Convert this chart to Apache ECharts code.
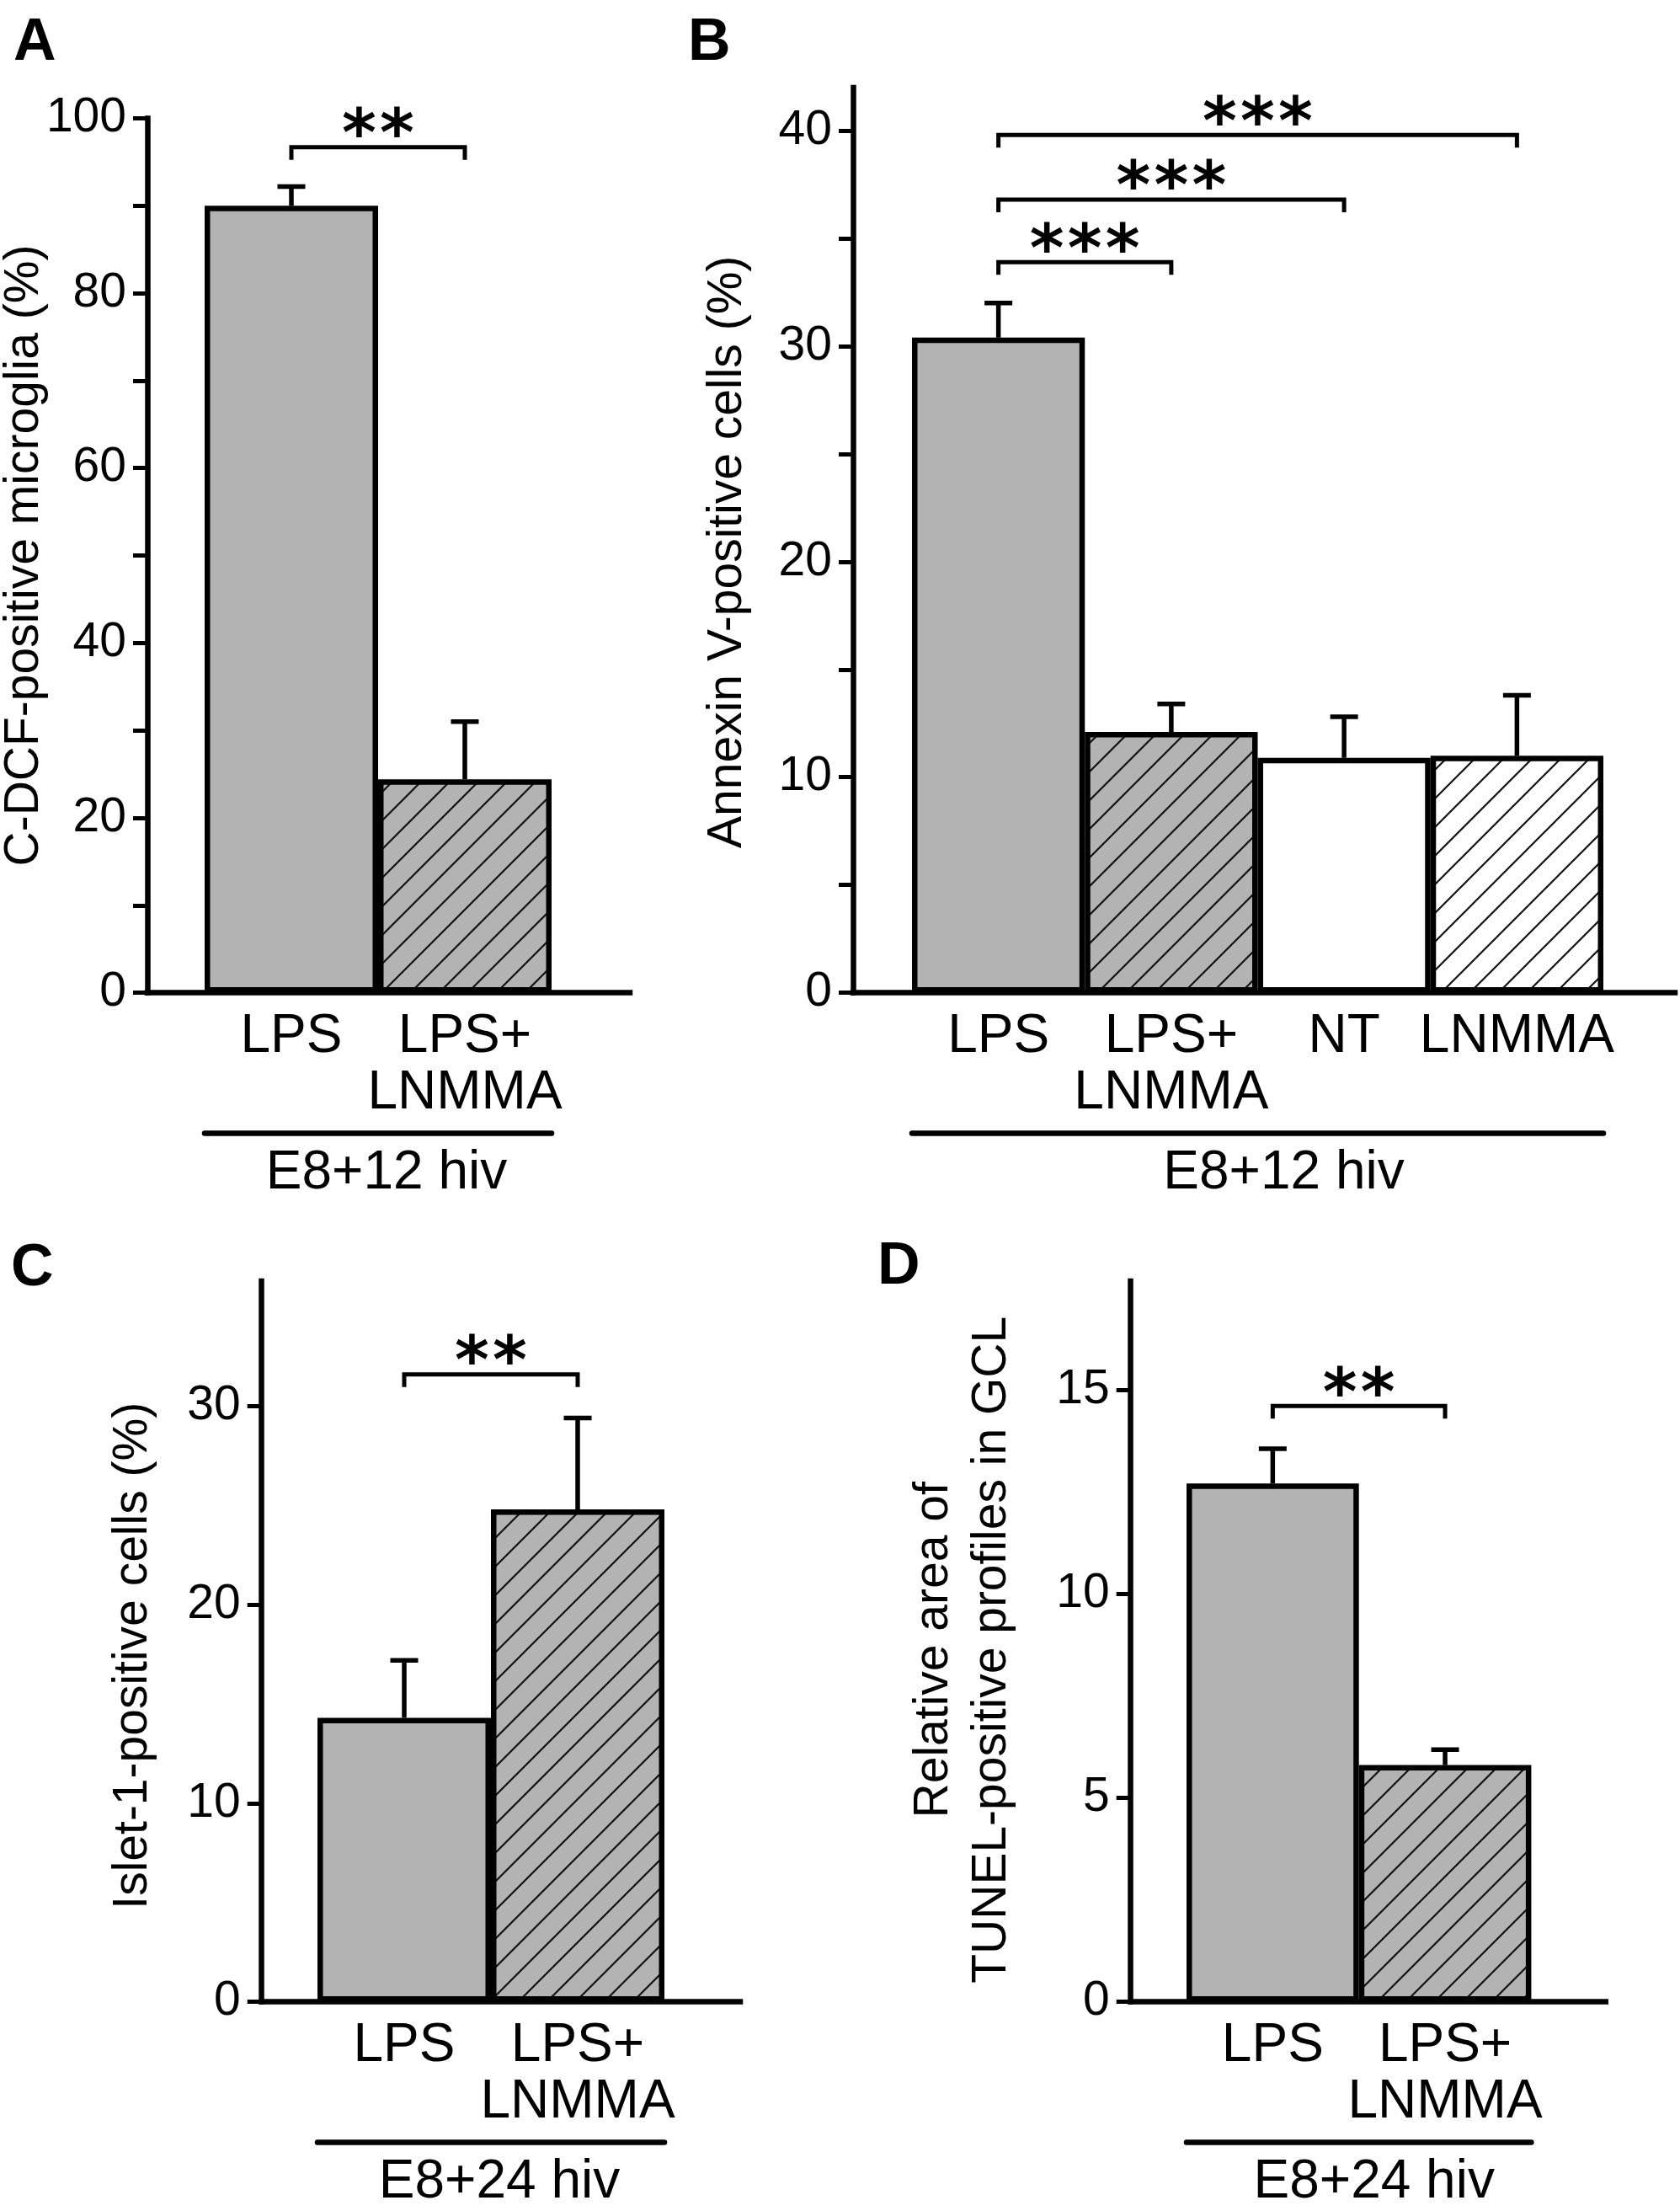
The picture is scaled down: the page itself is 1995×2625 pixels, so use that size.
<!DOCTYPE html>
<html lang="en">
<head>
<meta charset="UTF-8">
<title>LPS / LNMMA bar charts</title>
<script src="https://cdn.jsdelivr.net/npm/echarts@6/dist/echarts.min.js"></script>
<style>
    html, body { margin: 0; padding: 0; background: #fff; }
    #chart { width: 1995px; height: 2625px; }
</style>
</head>
<body>
<div id="chart"></div>
<script>
// ---- data ----
// A: C-DCF-positive microglia, E8+12 hiv
var catsA = ['LPS', 'LPS+\nLNMMA'];
var meanA = [90.0, 24.4];
var semA = [2.2, 6.6];
var ticksA = [0, 10, 20, 30, 40, 50, 60, 70, 80, 90, 100];
var labelsA = [0, 20, 40, 60, 80, 100];
var sigA = [[0, 96.7, 1, 2]];          // from, height, to, stars

// B: Annexin V-positive cells, E8+12 hiv
var catsB = ['LPS', 'LPS+\nLNMMA', 'NT', 'LNMMA'];
var meanB = [30.4, 12.1, 10.9, 11.0];
var semB = [1.6, 1.3, 1.9, 2.8];
var ticksB = [0, 5, 10, 15, 20, 25, 30, 35, 40];
var labelsB = [0, 10, 20, 30, 40];
var sigB = [[0, 33.9, 1, 3], [0, 36.8, 2, 3], [0, 39.8, 3, 3]];

// C: Islet-1-positive cells, E8+24 hiv
var catsC = ['LPS', 'LPS+\nLNMMA'];
var meanC = [14.3, 24.8];
var semC = [2.9, 4.6];
var ticksC = [0, 10, 20, 30];
var labelsC = [0, 10, 20, 30];
var sigC = [[0, 31.6, 1, 2]];

// D: TUNEL-positive profiles in GCL, E8+24 hiv
var catsD = ['LPS', 'LPS+\nLNMMA'];
var meanD = [12.7, 5.8];
var semD = [0.85, 0.38];
var ticksD = [0, 5, 10, 15];
var labelsD = [0, 5, 10, 15];
var sigD = [[0, 14.6, 1, 2]];

// ---- styles ----
var FONT = '"Liberation Sans", Arial, sans-serif';
var GRAY = '#b3b3b3';
var LW = 6.5;

function hatch(bg) {
    var s = 34;
    var c = document.createElement('canvas');
    c.width = s; c.height = s;
    var g = c.getContext('2d');
    g.fillStyle = bg;
    g.fillRect(0, 0, s, s);
    g.strokeStyle = '#111';
    g.lineWidth = 2.2;
    g.beginPath();
    g.moveTo(-3, s + 3); g.lineTo(s + 3, -3);
    g.moveTo(-3, 3); g.lineTo(3, -3);
    g.moveTo(s - 3, s + 3); g.lineTo(s + 3, s - 3);
    g.stroke();
    return c;
}
var fills = {
    gray: GRAY,
    white: '#ffffff',
    grayHatch: {image: hatch(GRAY), repeat: 'repeat'},
    whiteHatch: {image: hatch('#ffffff'), repeat: 'repeat'}
};

function errorBar(params, api) {
    var x = api.value(0);
    var p0 = api.coord([x, api.value(1)]);
    var p1 = api.coord([x, api.value(1) + api.value(2)]);
    var ls = {stroke: '#000', lineWidth: 5.5};
    return {
        type: 'group',
        children: [
            {type: 'line', shape: {x1: p0[0], y1: p0[1], x2: p1[0], y2: p1[1]}, style: ls},
            {type: 'line', shape: {x1: p1[0] - 16.5, y1: p1[1], x2: p1[0] + 16.5, y2: p1[1]}, style: ls}
        ]
    };
}

function bracket(params, api) {
    var a = api.coord([api.value(0), api.value(1)]);
    var b = api.coord([api.value(2), api.value(1)]);
    var n = api.value(3);
    var mid = (a[0] + b[0]) / 2;
    var kids = [{
        type: 'polyline',
        shape: {points: [[a[0], a[1] + 15], [a[0], a[1]], [b[0], b[1]], [b[0], b[1] + 15]]},
        style: {stroke: '#000', lineWidth: 5, fill: null}
    }];
    for (var k = 0; k < n; k++) {
        kids.push({
            type: 'text',
            x: mid + (k - (n - 1) / 2) * 45,
            y: a[1] - 10,
            style: {
                text: '*', fill: '#000', fontFamily: '"DejaVu Sans"', fontWeight: 'bold',
                fontSize: 78, align: 'center', verticalAlign: 'middle'
            }
        });
    }
    return {type: 'group', children: kids};
}

// ---- panel layout ----
var panels = [
    {tag: 'A', tagPos: [16, 17], cats: catsA, mean: meanA, sem: semA, sig: sigA, ticks: ticksA, labels: labelsA,
        max: 100, fill: ['gray', 'grayHatch'], title: 'C-DCF-positive microglia (%)', group: 'E8+12 hiv',
        box: {axisX: 175, top: 140.5, base: 1178.6, xEnd: 748, barL: 243, barR: 655},
        nameGap: 117, nameShift: 0, titleLH: 57, groupShift: 10},
    {tag: 'B', tagPos: [817, 17], cats: catsB, mean: meanB, sem: semB, sig: sigB, ticks: ticksB, labels: labelsB,
        max: 42, fill: ['gray', 'grayHatch', 'white', 'whiteHatch'], title: 'Annexin V-positive cells (%)', group: 'E8+12 hiv',
        box: {axisX: 1013, top: 104, base: 1178.6, xEnd: 1989, barL: 1083, barR: 1904},
        nameGap: 120, nameShift: -14, titleLH: 57, groupShift: 31},
    {tag: 'C', tagPos: [13, 1472], cats: catsC, mean: meanC, sem: semC, sig: sigC, ticks: ticksC, labels: labelsC,
        max: 36.3, fill: ['gray', 'grayHatch'], title: 'Islet-1-positive cells (%)', group: 'E8+24 hiv',
        box: {axisX: 310.7, top: 1521, base: 2376.5, xEnd: 879, barL: 377, barR: 789},
        nameGap: 124, nameShift: -17, titleLH: 57, groupShift: 10},
    {tag: 'D', tagPos: [1042, 1470], cats: catsD, mean: meanD, sem: semD, sig: sigD, ticks: ticksD, labels: labelsD,
        max: 17.66, fill: ['gray', 'grayHatch'], title: 'Relative area of\nTUNEL-positive profiles in GCL', group: 'E8+24 hiv',
        box: {axisX: 1342.7, top: 1521, base: 2376.6, xEnd: 1906.7, barL: 1409, barR: 1818.4},
        nameGap: 130, nameShift: -10, titleLH: 69, groupShift: 18}
];

function shiftPad(s) {
    return s >= 0 ? [0, 0, 0, 2 * s] : [0, -2 * s, 0, 0];
}

var option = {
    animation: false,
    backgroundColor: '#ffffff',
    textStyle: {fontFamily: FONT, color: '#000'},
    title: [], grid: [], xAxis: [], yAxis: [], series: []
};

panels.forEach(function (p) {
    var b = p.box;
    var g0 = option.grid.length;
    var x0 = option.xAxis.length;
    var y0 = option.yAxis.length;
    var line = {show: true, onZero: false, lineStyle: {color: '#000', width: LW, cap: 'square'}};

    option.title.push({
        text: p.tag, left: p.tagPos[0], top: p.tagPos[1], padding: 0,
        textStyle: {fontFamily: FONT, fontWeight: 'bold', fontSize: 70, lineHeight: 70, color: '#000'}
    });

    // full frame (y axis + baseline) and the bar band
    option.grid.push({left: b.axisX, top: b.top, width: b.xEnd - b.axisX, height: b.base - b.top, outerBoundsMode: 'none'});
    option.grid.push({left: b.barL, top: b.top, width: b.barR - b.barL, height: b.base - b.top, outerBoundsMode: 'none'});

    option.xAxis.push({
        type: 'value', gridIndex: g0, min: 0, max: 1, position: 'bottom',
        axisLine: line, axisTick: {show: false}, axisLabel: {show: false}, splitLine: {show: false}
    });
    option.xAxis.push({
        type: 'category', gridIndex: g0 + 1, data: p.cats, position: 'bottom',
        axisLine: {show: false, onZero: false}, axisTick: {show: false},
        axisLabel: {interval: 0, margin: 19, color: '#000', fontFamily: FONT, fontSize: 64, lineHeight: 67}
    });
    option.xAxis.push({
        type: 'category', gridIndex: g0 + 1, data: p.cats, position: 'bottom', offset: 167,
        axisLine: {show: true, onZero: false, lineStyle: {color: '#000', width: LW}},
        axisTick: {show: false}, axisLabel: {show: false},
        name: p.group, nameLocation: 'middle', nameGap: 16, nameMoveOverlap: false,
        nameTextStyle: {color: '#000', fontFamily: FONT, fontSize: 64, lineHeight: 64, padding: shiftPad(p.groupShift)}
    });

    option.yAxis.push({
        type: 'value', gridIndex: g0, min: 0, max: p.max,
        axisLine: line,
        axisTick: {show: true, length: 17, lineStyle: {color: '#000', width: 5}, customValues: p.ticks},
        axisLabel: {customValues: p.labels, margin: 25, color: '#000', fontFamily: FONT, fontSize: 57},
        splitLine: {show: false},
        name: p.title, nameLocation: 'middle', nameRotate: 90, nameGap: p.nameGap, nameMoveOverlap: false,
        nameTextStyle: {color: '#000', fontFamily: FONT, fontSize: 57, lineHeight: p.titleLH, align: 'center', padding: shiftPad(p.nameShift)}
    });
    option.yAxis.push({type: 'value', gridIndex: g0 + 1, min: 0, max: p.max, show: false});

    option.series.push({
        type: 'bar', xAxisIndex: x0 + 1, yAxisIndex: y0 + 1, barCategoryGap: '0%', silent: true,
        itemStyle: {borderColor: '#000', borderWidth: LW},
        data: p.mean.map(function (v, i) {
            return {value: v, itemStyle: {color: fills[p.fill[i]]}};
        })
    });
    option.series.push({
        type: 'custom', xAxisIndex: x0 + 1, yAxisIndex: y0 + 1, silent: true, renderItem: errorBar,
        data: p.mean.map(function (v, i) { return [i, v, p.sem[i]]; })
    });
    option.series.push({
        type: 'custom', xAxisIndex: x0 + 1, yAxisIndex: y0 + 1, silent: true, renderItem: bracket,
        data: p.sig
    });
});

var myChart = echarts.init(document.getElementById('chart'));
myChart.setOption(option);
</script>
</body>
</html>
